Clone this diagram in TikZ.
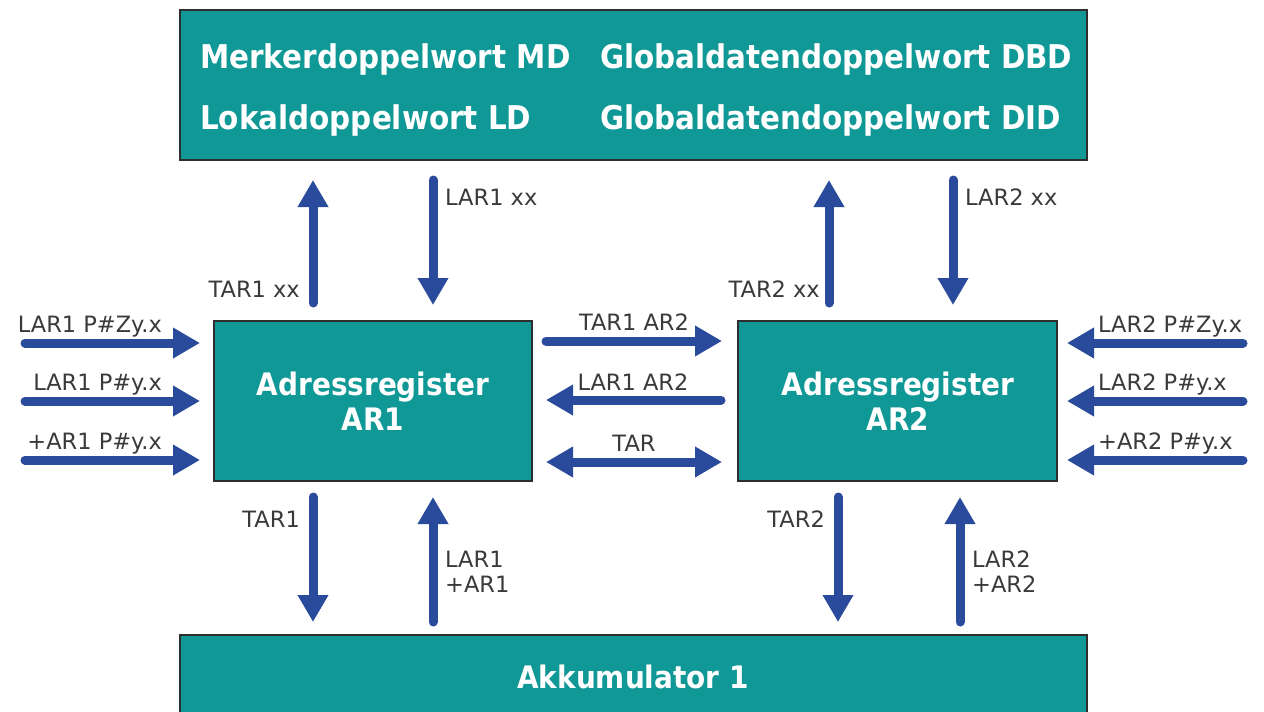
\documentclass[tikz,border=0pt]{standalone}
\usepackage{fontspec}
\setmainfont{DejaVu Sans}
\newfontfamily\boxfont{DejaVu Sans Condensed}
\usetikzlibrary{arrows.meta}
\definecolor{tealbox}{HTML}{0F9895}
\definecolor{boxedge}{HTML}{2E2E2E}
\definecolor{flow}{HTML}{2A4A9C}
\definecolor{labelgray}{HTML}{3A3A3A}
\tikzset{
  regbox/.style={draw=boxedge, line width=2pt, fill=tealbox},
  boxtext/.style={text=white, font=\boxfont\bfseries\fontsize{31}{35}\selectfont, inner sep=0pt},
  headtext/.style={boxtext, font=\boxfont\bfseries\fontsize{32.7}{36}\selectfont},
  lbl/.style={text=labelgray, font=\fontsize{22.5}{25}\selectfont, inner sep=0pt},
  flowarrow/.style={draw=flow, line width=9pt, line cap=round,
    -{Triangle[width=29pt,length=27pt]}},
  flowboth/.style={draw=flow, line width=9pt,
    {Triangle[width=29pt,length=27pt]}-{Triangle[width=29pt,length=27pt]}}
}
\begin{document}
\begin{tikzpicture}[x=1pt,y=-1pt]
\useasboundingbox (0,0) rectangle (1264,712);
\clip (0,0) rectangle (1264,712);
\fill[white] (0,0) rectangle (1264,712);

% memory block
\draw[regbox] (180,10) rectangle (1087,160);
\node[headtext, anchor=base west] (md) at (200,68) {Merkerdoppelwort MD};
\node[headtext, anchor=base west] (ld) at (200,129) {Lokaldoppelwort LD};
\node[headtext, anchor=base west] (dbd) at (600,68) {Globaldatendoppelwort DBD};
\node[headtext, anchor=base west] (did) at (600,129) {Globaldatendoppelwort DID};

% address registers
\draw[regbox] (214,321) rectangle (532,481);
\node[boxtext, align=center] (ar1) at (373,401) {Adressregister\\[0pt]AR1};
\draw[regbox] (738,321) rectangle (1057,481);
\node[boxtext, align=center] (ar2) at (898,401) {Adressregister\\[0pt]AR2};

% accumulator
\draw[regbox] (180,635) rectangle (1087,740);
\node[boxtext] (akku) at (633,677) {Akkumulator 1};

% arrow end points
\foreach \n/\x/\y in {
  t1a/313/303, t1b/313/180, l1a/433/180, l1b/433/305,
  t2a/829/303, t2b/829/180, l2a/953/180, l2b/953/305,
  i1a/25/343, i1b/200/343, i2a/25/401, i2b/200/401, i3a/25/460, i3b/200/460,
  j1a/1243/343, j1b/1067/343, j2a/1243/401, j2b/1067/401, j3a/1243/460, j3b/1067/460,
  m1a/546/341, m1b/722/341, m2a/721/400, m2b/546/400, m3a/546/462, m3b/722/462,
  b1a/313/497, b1b/313/622, b2a/433/622, b2b/433/497,
  b3a/838/497, b3b/838/622, b4a/960/622, b4b/960/497}
  \coordinate (\n) at (\x,\y);

\foreach \a/\b in {t1a/t1b, l1a/l1b, t2a/t2b, l2a/l2b,
  i1a/i1b, i2a/i2b, i3a/i3b, j1a/j1b, j2a/j2b, j3a/j3b,
  m1a/m1b, m2a/m2b, b1a/b1b, b2a/b2b, b3a/b3b, b4a/b4b}
  \draw[flowarrow] (\a) -- (\b);
\draw[flowboth] (m3a) -- (m3b);

% labels: upper connections
\node[lbl, anchor=base east] (lt1) at (300,297) {TAR1 xx};
\node[lbl, anchor=base west] (ll1) at (445,205) {LAR1 xx};
\node[lbl, anchor=base east] (lt2) at (820,297) {TAR2 xx};
\node[lbl, anchor=base west] (ll2) at (965,205) {LAR2 xx};

% labels: left inputs
\node[lbl, anchor=base east] (li1) at (162,332) {LAR1 P\#Zy.x};
\node[lbl, anchor=base east] (li2) at (162,390) {LAR1 P\#y.x};
\node[lbl, anchor=base east] (li3) at (162,449) {+AR1 P\#y.x};

% labels: right inputs
\node[lbl, anchor=base west] (lj1) at (1098,332) {LAR2 P\#Zy.x};
\node[lbl, anchor=base west] (lj2) at (1098,390) {LAR2 P\#y.x};
\node[lbl, anchor=base west] (lj3) at (1098,449) {+AR2 P\#y.x};

% labels: between registers
\node[lbl, anchor=base] (lm1) at (634,330) {TAR1 AR2};
\node[lbl, anchor=base] (lm2) at (633,390) {LAR1 AR2};
\node[lbl, anchor=base] (lm3) at (634,451) {TAR};

% labels: accumulator connections
\node[lbl, anchor=base east] (lb1) at (300,527) {TAR1};
\node[lbl, anchor=base west, align=left] (lb2) at (445,592) {LAR1\\[0pt]+AR1};
\node[lbl, anchor=base east] (lb3) at (825,527) {TAR2};
\node[lbl, anchor=base west, align=left] (lb4) at (972,592) {LAR2\\[0pt]+AR2};
\end{tikzpicture}
\end{document}
